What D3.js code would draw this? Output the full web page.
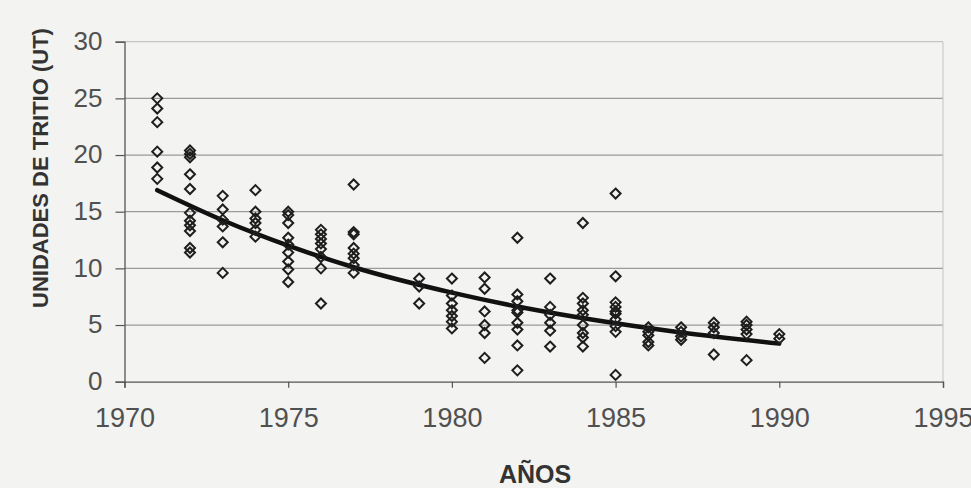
<!DOCTYPE html>
<html>
<head>
<meta charset="utf-8">
<script src="https://cdn.jsdelivr.net/npm/d3@7"></script>
<style>
  body { margin: 0; background: #f3f3f1; }
  svg { display: block; }
  .tick text { fill: #505050; font-family: "Liberation Sans", Arial, sans-serif; }
</style>
</head>
<body>
<svg id="chart" width="971" height="488"></svg>
<script>
// sample years and tritium readings (UT)
const years = [1971, 1972, 1973, 1974, 1975, 1976, 1977, 1979, 1980, 1981,
               1982, 1983, 1984, 1985, 1986, 1987, 1988, 1989, 1990];
const samples = [
  [25.0, 24.1, 22.9, 20.3, 18.9, 17.9],
  [20.4, 20.1, 19.8, 18.3, 17.0, 14.9, 14.2, 13.8, 13.3, 11.8, 11.4],
  [16.4, 15.2, 14.3, 13.7, 12.3, 9.6],
  [16.9, 15.0, 14.4, 14.0, 13.4, 12.8],
  [15.0, 14.7, 14.0, 12.7, 12.1, 11.4, 10.6, 9.9, 8.8],
  [13.4, 13.0, 12.6, 12.2, 11.7, 11.0, 10.0, 6.9],
  [17.4, 13.2, 13.0, 11.8, 11.3, 10.9, 10.3, 9.6],
  [9.1, 8.4, 6.9],
  [9.1, 7.6, 6.9, 6.3, 5.8, 5.3, 4.7],
  [9.2, 8.2, 6.2, 5.0, 4.3, 2.1],
  [12.7, 7.7, 7.1, 6.3, 6.1, 5.2, 4.6, 3.2, 1.0],
  [9.1, 6.6, 5.9, 5.2, 4.5, 3.1],
  [14.0, 7.4, 6.9, 6.3, 5.9, 5.0, 4.3, 3.9, 3.1],
  [16.6, 9.3, 7.0, 6.6, 6.2, 6.0, 5.5, 4.9, 4.4, 0.6],
  [4.8, 4.4, 4.1, 3.5, 3.2],
  [4.8, 4.4, 4.0, 3.7],
  [5.2, 4.8, 4.3, 2.4],
  [5.3, 5.0, 4.6, 4.2, 1.9],
  [4.2, 3.8]
];

// trend curve
const trendYears = [1971, 1973, 1975, 1977, 1980, 1982, 1985, 1987, 1990];
const trendValues = [16.9, 14.25, 12.0, 10.1, 7.86, 6.63, 5.15, 4.34, 3.36];

const xTicks = [1970, 1975, 1980, 1985, 1990, 1995];
const yTicks = [0, 5, 10, 15, 20, 25, 30];

const svg = d3.select("#chart");
const plotL = 124.5, plotR = 943, plotT = 41.7, plotB = 381.7;

const x = d3.scaleLinear().domain([1970, 1995]).range([plotL, plotR]);
const y = d3.scaleLinear().domain([0, 30]).range([plotB, plotT]);

// horizontal grid
svg.append("g")
  .selectAll("line")
  .data(yTicks.filter(d => d > 0))
  .join("line")
  .attr("x1", plotL).attr("x2", plotR)
  .attr("y1", d => y(d)).attr("y2", d => y(d))
  .attr("stroke", d => d === 30 ? "#c4c4c4" : "#9a9a9a")
  .attr("stroke-width", 1.2);

// right border
svg.append("line")
  .attr("x1", plotR).attr("x2", plotR)
  .attr("y1", plotT).attr("y2", plotB)
  .attr("stroke", "#c4c4c4");

// axes
const yAxis = svg.append("g")
  .attr("transform", `translate(${plotL},0)`)
  .call(d3.axisLeft(y).tickValues(yTicks).tickSize(9).tickPadding(13));
yAxis.selectAll("text").attr("font-size", 26).attr("dy", "0.3em");

const xAxis = svg.append("g")
  .attr("transform", `translate(0,${plotB})`)
  .call(d3.axisBottom(x).tickValues(xTicks).tickFormat(d3.format("d")).tickSize(6).tickPadding(27));
xAxis.selectAll("text").attr("font-size", 27).attr("dy", "0.45em");

svg.selectAll(".domain").attr("stroke", "#555").attr("stroke-width", 1.3);
svg.selectAll(".tick line").attr("stroke", "#555").attr("stroke-width", 1.2);

// trend line
const line = d3.line()
  .x((d, i) => x(trendYears[i]))
  .y(d => y(d))
  .curve(d3.curveMonotoneX);

svg.append("path")
  .datum(trendValues)
  .attr("d", line)
  .attr("fill", "none")
  .attr("stroke", "#111")
  .attr("stroke-width", 4.5)
  .attr("stroke-linecap", "round");

// points
const points = [];
years.forEach((yr, i) => samples[i].forEach(v => points.push({ yr, v })));

const r = 5;
svg.append("g")
  .selectAll("path")
  .data(points)
  .join("path")
  .attr("transform", d => `translate(${x(d.yr)},${y(d.v)})`)
  .attr("d", `M0,${-r}L${r},0L0,${r}L${-r},0Z`)
  .attr("fill", "none")
  .attr("stroke", "#1e1e1e")
  .attr("stroke-width", 2);

// titles
svg.append("text")
  .attr("transform", "translate(48,168) rotate(-90)")
  .attr("text-anchor", "middle")
  .attr("font-family", "Liberation Sans, Arial, sans-serif")
  .attr("font-weight", "bold")
  .attr("font-size", 22)
  .attr("fill", "#333")
  .text("UNIDADES DE TRITIO (UT)");

svg.append("text")
  .attr("x", 535)
  .attr("y", 483)
  .attr("text-anchor", "middle")
  .attr("font-family", "Liberation Sans, Arial, sans-serif")
  .attr("font-weight", "bold")
  .attr("font-size", 25)
  .attr("fill", "#333")
  .text("AÑOS");
</script>
</body>
</html>
